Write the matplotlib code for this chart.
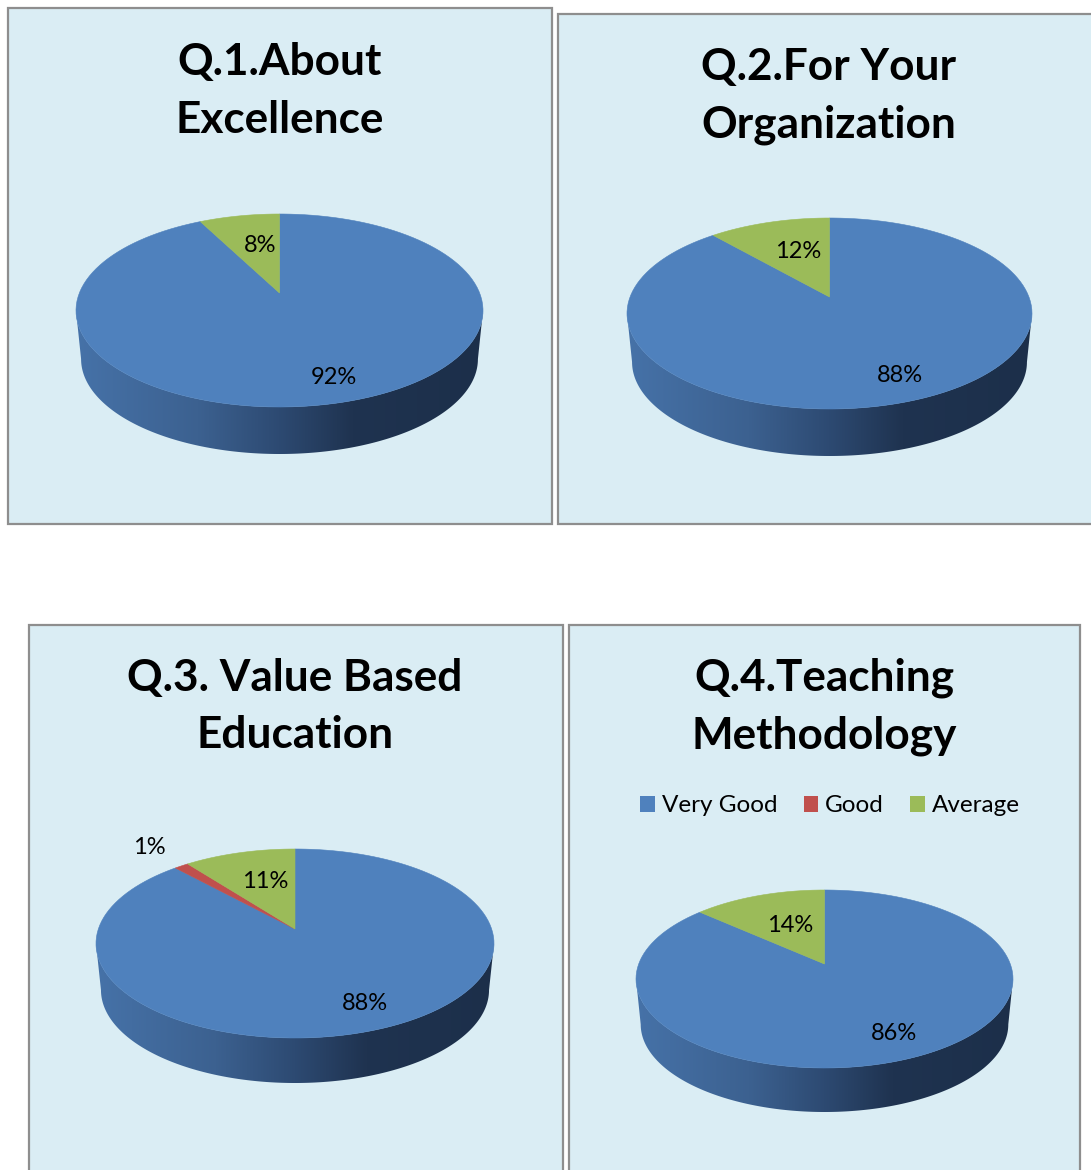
#!/usr/bin/env python3
"""Four survey pies drawn as tilted discs on pale blue panels."""

import matplotlib
matplotlib.use("Agg")
import matplotlib.pyplot as plt
from matplotlib.colors import LinearSegmentedColormap
from matplotlib.patches import Patch, Polygon, Rectangle
from matplotlib.transforms import Affine2D
import numpy as np

WIDTH, HEIGHT = 1091, 1170

CATEGORIES = ["Very Good", "Good", "Average"]
TITLES = [
    "Q.1.About\nExcellence",
    "Q.2.For Your\nOrganization",
    "Q.3. Value Based\nEducation",
    "Q.4.Teaching\nMethodology",
]
Q1_VALUES = [92, 0, 8]
Q2_VALUES = [88, 0, 12]
Q3_VALUES = [87.6, 1.4, 11]
Q4_VALUES = [86, 0, 14]

BLUE = "#4f81bd"
RED = "#c0504d"
GREEN = "#9bbb59"
PANEL = "#daedf4"
EDGE = "#8e8e8e"
COLORS = [BLUE, RED, GREEN]
WALL = LinearSegmentedColormap.from_list(
    "wall",
    [(0.0, "#4672a8"), (0.3, "#3c6190"), (0.5, "#2d4a72"), (0.68, "#1f3350"), (1.0, "#1c2f4a")],
)

# panel boxes and pie geometry, in picture pixels
PANELS = [(8, 8, 552, 524), (558, 14, 1110, 524), (29, 625, 563, 1190), (569, 625, 1080, 1190)]
# left, right, top, bottom of the top face, apex y, wall bottom y
DISCS = [
    (76, 483, 214, 407, 293, 454),
    (627, 1032, 218, 409, 297, 456),
    (96, 494, 849, 1038, 929, 1083),
    (636, 1013, 890, 1068, 964, 1112),
]
TITLE_CENTRES = [(279.5, 91), (829, 96), (295, 706.5), (824, 706.5)]
LABEL_SPOTS = [
    {0: (334, 378), 2: (260, 246)},
    {0: (900, 376), 2: (798, 251)},
    {0: (365, 1004), 1: (149, 848), 2: (265, 882)},
    {0: (894, 1034), 2: (790, 925)},
]

plt.rcParams["font.family"] = ["Lato", "DejaVu Sans"]


def figx(x):
    return x / WIDTH


def figy(y):
    return 1 - y / HEIGHT


def tilt(points, k):
    """Move the disc centre up by k while the rim stays on the unit circle."""
    x, y = points[:, 0], points[:, 1]
    # the source squeezes angles a little near the top of the disc
    r = np.hypot(x, y)
    phi = np.arctan2(x, y)
    phi = phi * (1 - 0.06 * (1 - np.abs(phi) / np.pi))
    x, y = r * np.sin(phi), r * np.cos(phi)
    w = 1 + k * y
    return np.column_stack((np.sqrt(1 - k * k) * x / w, (y + k) / w))


def draw_pie(fig, values, disc):
    left, right, top, bottom, apex, floor = disc
    cx = (left + right) / 2
    cy = (top + bottom) / 2
    rx = (right - left) / 2
    ry = (bottom - top) / 2
    k = (cy - apex) / ry

    pad = 4
    ax = fig.add_axes([
        figx(left - pad),
        figy(floor + pad),
        (right - left + 2 * pad) / WIDTH,
        (floor - top + 2 * pad) / HEIGHT,
    ])
    wedges, _ = ax.pie(values, colors=COLORS, startangle=90, counterclock=False, radius=1)
    ax.set_aspect("auto")
    ax.axis("off")

    # side wall: the top rim joined to a slightly narrower lower rim
    shrink = 0.975
    lower_ry = 0.984
    centre = (cy - floor) / ry + lower_ry
    t = np.linspace(np.pi, 2 * np.pi, 300)
    upper = np.column_stack((np.cos(t), np.sin(t)))
    lower = np.column_stack((shrink * np.cos(t), lower_ry * np.sin(t) + centre))
    outline = np.vstack((upper, lower[::-1]))
    clip = Polygon(outline, closed=True, transform=ax.transData, facecolor="none", edgecolor="none")
    ax.add_patch(clip)
    image = ax.imshow(
        np.linspace(0, 1, 256)[None, :],
        cmap=WALL,
        extent=(-1, 1, (cy - floor) / ry, 0),
        aspect="auto",
        zorder=1,
    )
    image.set_clip_path(clip)
    ax.set_xlim((left - pad - cx) / rx, (right + pad - cx) / rx)
    ax.set_ylim((cy - floor - pad) / ry, (cy - top + pad) / ry)

    for wedge, value, color in zip(wedges, values, COLORS):
        wedge.set_visible(False)
        if value == 0:
            continue
        scaled = wedge.get_path().transformed(Affine2D().scale(400))
        points = scaled.to_polygons(closed_only=False)[0] / 400
        ax.add_patch(Polygon(tilt(points, k), closed=True, facecolor=color, edgecolor=color,
                             linewidth=0.4, zorder=2))


def main():
    fig = plt.figure(figsize=(WIDTH / 100, HEIGHT / 100), dpi=100, facecolor="white")

    back = fig.add_axes([0, 0, 1, 1])
    back.set_xlim(0, WIDTH)
    back.set_ylim(HEIGHT, 0)
    back.axis("off")
    for x0, y0, x1, y1 in PANELS:
        back.add_patch(Rectangle((x0, y0), x1 - x0, y1 - y0, facecolor=PANEL, edgecolor=EDGE, linewidth=1.6))

    all_values = [Q1_VALUES, Q2_VALUES, Q3_VALUES, Q4_VALUES]
    for values, disc in zip(all_values, DISCS):
        draw_pie(fig, values, disc)

    for title, (x, y) in zip(TITLES, TITLE_CENTRES):
        fig.text(figx(x), figy(y), title, ha="center", va="center", fontsize=31.8,
                 fontweight="bold", color="black", linespacing=1.52)

    for values, spots in zip(all_values, LABEL_SPOTS):
        for index, (x, y) in spots.items():
            fig.text(figx(x), figy(y), f"{round(values[index])}%", ha="center", va="center",
                     fontsize=17, color="black")

    handles = [Patch(facecolor=c, edgecolor="none") for c in COLORS]
    fig.legend(
        handles,
        CATEGORIES,
        loc="center",
        bbox_to_anchor=(figx(830), figy(806)),
        ncol=3,
        frameon=False,
        fontsize=17.5,
        handlelength=0.6,
        handleheight=0.6,
        handletextpad=0.29,
        columnspacing=1.07,
    )

    fig.savefig("out.png", dpi=100)
    plt.close(fig)


if __name__ == "__main__":
    main()
